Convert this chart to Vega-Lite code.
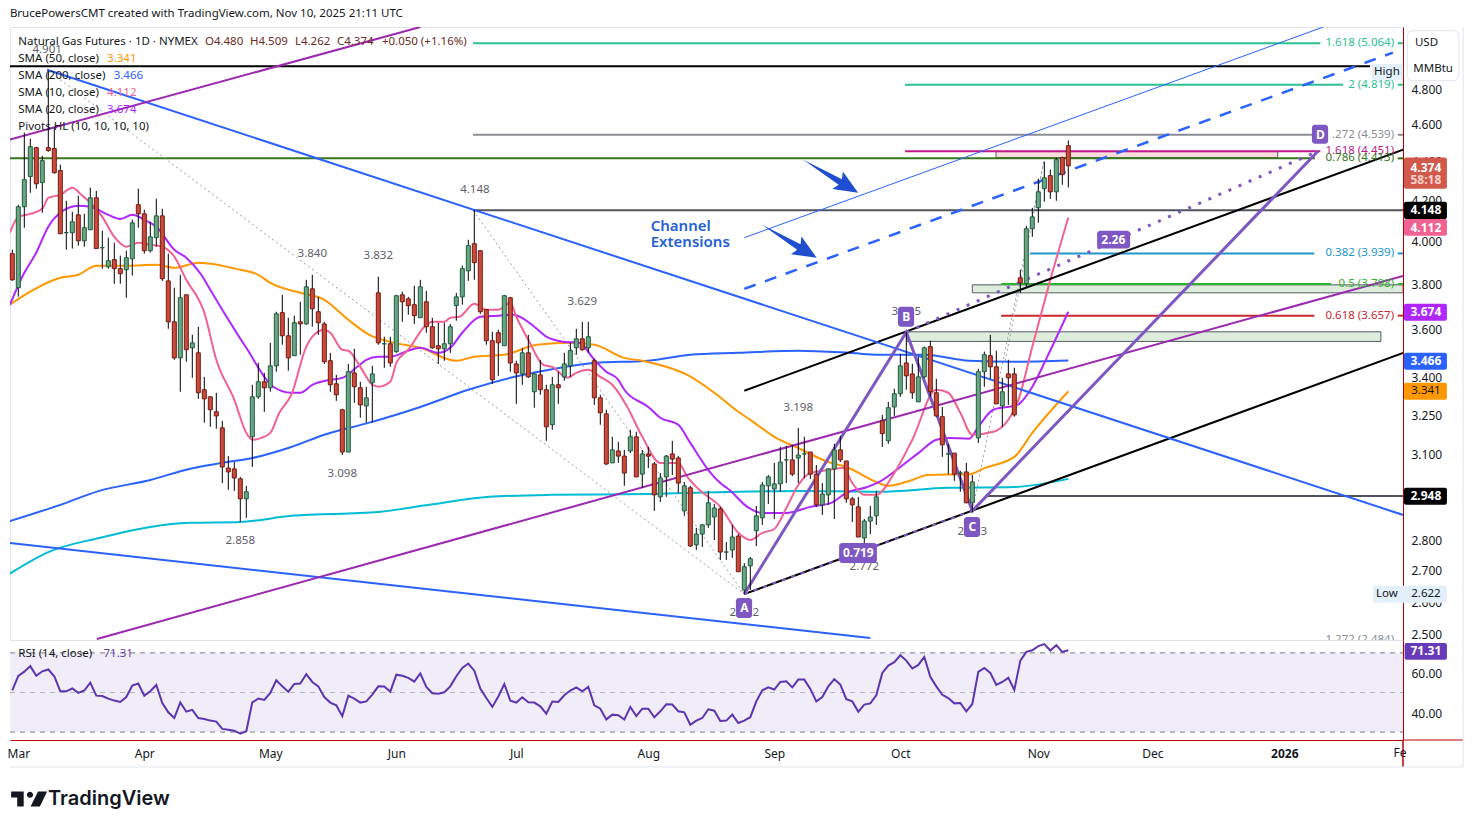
{
"$schema":"https://vega.github.io/schema/vega-lite/v6.json",
"background":"white",
"padding":{"left":7,"top":7,"right":8,"bottom":5},
"spacing":0,
"bounds":"flush",
"config":{"view":{"stroke":null},"text":{"font":"Noto Sans","fontSize":11.5,"baseline":"middle"},"axis":{"labelFont":"Noto Sans","labelFontSize":12,"labelColor":"#131722","grid":false,"ticks":false,"title":null,"labelOverlap":false,"labelBound":false}},
"datasets":{
"candles":[
{"b":0,"o":3.938,"h":3.957,"l":3.812,"c":3.817},{"b":1,"o":3.781,"h":4.175,"l":3.741,"c":4.165},{"b":2,"o":4.165,"h":4.551,"l":4.062,"c":4.302},{"b":3,"o":4.318,"h":4.518,"l":4.235,"c":4.475},{"b":4,"o":4.470,"h":4.475,"l":4.256,"c":4.281},{"b":5,"o":4.287,"h":4.427,"l":4.135,"c":4.401},{"b":6,"o":4.470,"h":4.900,"l":4.448,"c":4.454},{"b":7,"o":4.465,"h":4.578,"l":4.333,"c":4.338},{"b":8,"o":4.349,"h":4.380,"l":4.033,"c":4.033},{"b":9,"o":4.038,"h":4.195,"l":3.957,"c":4.038},
{"b":10,"o":4.038,"h":4.140,"l":3.962,"c":4.091},{"b":11,"o":4.125,"h":4.220,"l":3.976,"c":3.999},{"b":12,"o":3.999,"h":4.130,"l":3.971,"c":4.062},{"b":13,"o":4.052,"h":4.261,"l":4.052,"c":4.210},{"b":14,"o":4.210,"h":4.245,"l":3.962,"c":3.962},{"b":15,"o":3.966,"h":4.047,"l":3.868,"c":3.966},{"b":16,"o":3.877,"h":4.014,"l":3.868,"c":3.905},{"b":17,"o":3.910,"h":3.990,"l":3.799,"c":3.868},{"b":18,"o":3.868,"h":3.929,"l":3.799,"c":3.845},{"b":19,"o":3.863,"h":3.952,"l":3.736,"c":3.919},
{"b":20,"o":3.914,"h":4.101,"l":3.836,"c":4.086},{"b":21,"o":4.175,"h":4.256,"l":4.062,"c":4.130},{"b":22,"o":4.130,"h":4.150,"l":3.938,"c":3.952},{"b":23,"o":3.952,"h":4.091,"l":3.943,"c":4.018},{"b":24,"o":4.014,"h":4.205,"l":3.971,"c":4.120},{"b":25,"o":4.120,"h":4.155,"l":3.812,"c":3.822},{"b":26,"o":3.812,"h":3.938,"l":3.600,"c":3.630},{"b":27,"o":3.630,"h":3.781,"l":3.469,"c":3.477},{"b":28,"o":3.477,"h":3.840,"l":3.339,"c":3.736},{"b":29,"o":3.749,"h":3.749,"l":3.461,"c":3.511},
{"b":30,"o":3.519,"h":3.574,"l":3.395,"c":3.540},{"b":31,"o":3.498,"h":3.609,"l":3.311,"c":3.335},{"b":32,"o":3.347,"h":3.399,"l":3.218,"c":3.311},{"b":33,"o":3.319,"h":3.319,"l":3.202,"c":3.268},{"b":34,"o":3.260,"h":3.335,"l":3.195,"c":3.244},{"b":35,"o":3.198,"h":3.225,"l":2.994,"c":3.052},{"b":36,"o":3.048,"h":3.092,"l":2.970,"c":3.034},{"b":37,"o":3.045,"h":3.070,"l":2.966,"c":3.012},{"b":38,"o":3.009,"h":3.016,"l":2.858,"c":2.938},{"b":39,"o":2.938,"h":2.984,"l":2.872,"c":2.963},
{"b":40,"o":3.164,"h":3.367,"l":3.052,"c":3.319},{"b":41,"o":3.319,"h":3.456,"l":3.311,"c":3.379},{"b":42,"o":3.379,"h":3.415,"l":3.260,"c":3.355},{"b":43,"o":3.355,"h":3.540,"l":3.339,"c":3.444},{"b":44,"o":3.444,"h":3.674,"l":3.420,"c":3.665},{"b":45,"o":3.670,"h":3.749,"l":3.532,"c":3.570},{"b":46,"o":3.570,"h":3.648,"l":3.424,"c":3.477},{"b":47,"o":3.486,"h":3.657,"l":3.486,"c":3.626},{"b":48,"o":3.630,"h":3.718,"l":3.490,"c":3.621},{"b":49,"o":3.621,"h":3.817,"l":3.617,"c":3.785},
{"b":50,"o":3.776,"h":3.840,"l":3.609,"c":3.687},{"b":51,"o":3.674,"h":3.740,"l":3.574,"c":3.626},{"b":52,"o":3.621,"h":3.630,"l":3.452,"c":3.461},{"b":53,"o":3.465,"h":3.498,"l":3.339,"c":3.367},{"b":54,"o":3.371,"h":3.407,"l":3.303,"c":3.327},{"b":55,"o":3.268,"h":3.272,"l":3.096,"c":3.107},{"b":56,"o":3.107,"h":3.452,"l":3.107,"c":3.420},{"b":57,"o":3.415,"h":3.515,"l":3.295,"c":3.359},{"b":58,"o":3.355,"h":3.379,"l":3.237,"c":3.287},{"b":59,"o":3.283,"h":3.359,"l":3.218,"c":3.315},
{"b":60,"o":3.375,"h":3.444,"l":3.218,"c":3.411},{"b":61,"o":3.758,"h":3.831,"l":3.532,"c":3.540},{"b":62,"o":3.536,"h":3.566,"l":3.436,"c":3.536},{"b":63,"o":3.536,"h":3.566,"l":3.440,"c":3.456},{"b":64,"o":3.503,"h":3.749,"l":3.498,"c":3.745},{"b":65,"o":3.749,"h":3.763,"l":3.630,"c":3.718},{"b":66,"o":3.731,"h":3.740,"l":3.661,"c":3.701},{"b":67,"o":3.705,"h":3.790,"l":3.621,"c":3.657},{"b":68,"o":3.648,"h":3.817,"l":3.648,"c":3.785},{"b":69,"o":3.718,"h":3.767,"l":3.583,"c":3.609},
{"b":70,"o":3.609,"h":3.648,"l":3.515,"c":3.519},{"b":71,"o":3.528,"h":3.626,"l":3.452,"c":3.515},{"b":72,"o":3.515,"h":3.626,"l":3.465,"c":3.536},{"b":73,"o":3.536,"h":3.621,"l":3.498,"c":3.609},{"b":74,"o":3.701,"h":3.758,"l":3.635,"c":3.740},{"b":75,"o":3.740,"h":3.882,"l":3.705,"c":3.868},{"b":76,"o":3.858,"h":4.004,"l":3.812,"c":3.976},{"b":77,"o":3.985,"h":4.150,"l":3.817,"c":3.896},{"b":78,"o":3.952,"h":3.952,"l":3.665,"c":3.674},{"b":79,"o":3.683,"h":3.683,"l":3.532,"c":3.549},
{"b":80,"o":3.549,"h":3.587,"l":3.371,"c":3.387},{"b":81,"o":3.583,"h":3.596,"l":3.403,"c":3.540},{"b":82,"o":3.528,"h":3.749,"l":3.528,"c":3.745},{"b":83,"o":3.736,"h":3.740,"l":3.420,"c":3.456},{"b":84,"o":3.452,"h":3.465,"l":3.291,"c":3.415},{"b":85,"o":3.411,"h":3.519,"l":3.367,"c":3.498},{"b":86,"o":3.498,"h":3.574,"l":3.395,"c":3.399},{"b":87,"o":3.339,"h":3.415,"l":3.276,"c":3.411},{"b":88,"o":3.407,"h":3.469,"l":3.327,"c":3.347},{"b":89,"o":3.347,"h":3.367,"l":3.149,"c":3.202},
{"b":90,"o":3.210,"h":3.399,"l":3.191,"c":3.367},{"b":91,"o":3.367,"h":3.420,"l":3.291,"c":3.355},{"b":92,"o":3.399,"h":3.498,"l":3.383,"c":3.452},{"b":93,"o":3.444,"h":3.540,"l":3.399,"c":3.507},{"b":94,"o":3.519,"h":3.600,"l":3.490,"c":3.557},{"b":95,"o":3.557,"h":3.630,"l":3.507,"c":3.511},{"b":96,"o":3.519,"h":3.630,"l":3.498,"c":3.566},{"b":97,"o":3.465,"h":3.473,"l":3.287,"c":3.315},{"b":98,"o":3.315,"h":3.327,"l":3.210,"c":3.256},{"b":99,"o":3.252,"h":3.268,"l":3.059,"c":3.063},
{"b":100,"o":3.067,"h":3.164,"l":3.067,"c":3.115},{"b":101,"o":3.111,"h":3.145,"l":3.067,"c":3.092},{"b":102,"o":3.092,"h":3.115,"l":2.984,"c":3.030},{"b":103,"o":3.111,"h":3.191,"l":3.103,"c":3.164},{"b":104,"o":3.164,"h":3.183,"l":3.016,"c":3.016},{"b":105,"o":3.026,"h":3.115,"l":2.977,"c":3.100},{"b":106,"o":3.100,"h":3.126,"l":3.048,"c":3.092},{"b":107,"o":3.063,"h":3.070,"l":2.896,"c":2.952},{"b":108,"o":2.945,"h":3.030,"l":2.927,"c":3.012},{"b":109,"o":3.016,"h":3.096,"l":2.945,"c":3.092},
{"b":110,"o":3.100,"h":3.149,"l":3.023,"c":3.081},{"b":111,"o":3.085,"h":3.092,"l":2.959,"c":2.994},{"b":112,"o":2.896,"h":2.998,"l":2.879,"c":2.984},{"b":113,"o":2.977,"h":2.984,"l":2.774,"c":2.777},{"b":114,"o":2.781,"h":2.838,"l":2.764,"c":2.817},{"b":115,"o":2.817,"h":2.851,"l":2.774,"c":2.848},{"b":116,"o":2.848,"h":2.966,"l":2.838,"c":2.924},{"b":117,"o":2.875,"h":2.920,"l":2.797,"c":2.906},{"b":118,"o":2.903,"h":2.910,"l":2.731,"c":2.757},{"b":119,"o":2.757,"h":2.790,"l":2.731,"c":2.757},
{"b":120,"o":2.764,"h":2.848,"l":2.738,"c":2.807},{"b":121,"o":2.810,"h":2.817,"l":2.693,"c":2.693},{"b":122,"o":2.635,"h":2.721,"l":2.622,"c":2.709},{"b":123,"o":2.712,"h":2.741,"l":2.635,"c":2.735},{"b":124,"o":2.828,"h":2.913,"l":2.777,"c":2.879},{"b":125,"o":2.872,"h":2.998,"l":2.848,"c":2.987},{"b":126,"o":2.984,"h":3.023,"l":2.920,"c":3.016},{"b":127,"o":2.973,"h":3.067,"l":2.868,"c":2.991},{"b":128,"o":2.991,"h":3.126,"l":2.963,"c":3.070},{"b":129,"o":3.078,"h":3.130,"l":2.994,"c":3.078},
{"b":130,"o":3.078,"h":3.134,"l":3.019,"c":3.026},{"b":131,"o":3.085,"h":3.198,"l":2.994,"c":3.096},{"b":132,"o":3.100,"h":3.164,"l":3.012,"c":3.100},{"b":133,"o":3.107,"h":3.107,"l":3.009,"c":3.026},{"b":134,"o":3.026,"h":3.059,"l":2.910,"c":2.917},{"b":135,"o":2.917,"h":2.994,"l":2.882,"c":2.955},{"b":136,"o":2.952,"h":3.048,"l":2.917,"c":3.045},{"b":137,"o":3.045,"h":3.138,"l":2.868,"c":3.115},{"b":138,"o":3.115,"h":3.168,"l":3.070,"c":3.078},{"b":139,"o":3.074,"h":3.074,"l":2.924,"c":2.938},
{"b":140,"o":2.938,"h":2.945,"l":2.858,"c":2.917},{"b":141,"o":2.910,"h":2.945,"l":2.807,"c":2.807},{"b":142,"o":2.804,"h":2.868,"l":2.772,"c":2.861},{"b":143,"o":2.861,"h":2.913,"l":2.817,"c":2.875},{"b":144,"o":2.879,"h":2.966,"l":2.848,"c":2.945},{"b":145,"o":3.225,"h":3.248,"l":3.126,"c":3.176},{"b":146,"o":3.149,"h":3.299,"l":3.138,"c":3.276},{"b":147,"o":3.279,"h":3.351,"l":3.244,"c":3.331},{"b":148,"o":3.331,"h":3.494,"l":3.319,"c":3.444},{"b":149,"o":3.456,"h":3.585,"l":3.347,"c":3.403},
{"b":150,"o":3.411,"h":3.452,"l":3.311,"c":3.335},{"b":151,"o":3.299,"h":3.482,"l":3.299,"c":3.399},{"b":152,"o":3.399,"h":3.524,"l":3.395,"c":3.519},{"b":153,"o":3.524,"h":3.549,"l":3.319,"c":3.339},{"b":154,"o":3.335,"h":3.391,"l":3.241,"c":3.244},{"b":155,"o":3.241,"h":3.279,"l":3.089,"c":3.134},{"b":156,"o":3.100,"h":3.138,"l":3.026,"c":3.100},{"b":157,"o":3.103,"h":3.103,"l":3.002,"c":3.026},{"b":158,"o":3.030,"h":3.038,"l":2.963,"c":3.030},{"b":159,"o":3.034,"h":3.067,"l":2.924,"c":2.924},
{"b":160,"o":2.924,"h":3.023,"l":2.892,"c":2.998},{"b":161,"o":3.160,"h":3.432,"l":3.141,"c":3.420},{"b":162,"o":3.420,"h":3.503,"l":3.359,"c":3.490},{"b":163,"o":3.486,"h":3.574,"l":3.391,"c":3.440},{"b":164,"o":3.440,"h":3.507,"l":3.291,"c":3.291},{"b":165,"o":3.283,"h":3.395,"l":3.202,"c":3.339},{"b":166,"o":3.411,"h":3.469,"l":3.287,"c":3.395},{"b":167,"o":3.411,"h":3.436,"l":3.241,"c":3.248},{"b":168,"o":3.826,"h":3.863,"l":3.758,"c":3.803},{"b":169,"o":3.799,"h":4.072,"l":3.785,"c":4.057},
{"b":170,"o":4.057,"h":4.160,"l":4.018,"c":4.115},{"b":171,"o":4.160,"h":4.307,"l":4.086,"c":4.240},{"b":172,"o":4.256,"h":4.396,"l":4.190,"c":4.312},{"b":173,"o":4.323,"h":4.354,"l":4.205,"c":4.240},{"b":174,"o":4.240,"h":4.417,"l":4.195,"c":4.406},{"b":175,"o":4.417,"h":4.422,"l":4.276,"c":4.328},{"b":176,"o":4.480,"h":4.509,"l":4.262,"c":4.374}
],
"sma":[
{"k":"SMA200","b":-0.4,"p":2.861},{"k":"SMA200","b":8,"p":2.917},{"k":"SMA200","b":14.5,"p":2.966},{"k":"SMA200","b":23,"p":3.005},{"k":"SMA200","b":29.5,"p":3.045},{"k":"SMA200","b":35,"p":3.067},{"k":"SMA200","b":40,"p":3.085},{"k":"SMA200","b":46.5,"p":3.126},{"k":"SMA200","b":52,"p":3.172},{"k":"SMA200","b":59.5,"p":3.218},{"k":"SMA200","b":68,"p":3.279},{"k":"SMA200","b":76,"p":3.347},{"k":"SMA200","b":83,"p":3.395},{"k":"SMA200","b":89.5,"p":3.428},{"k":"SMA200","b":97,"p":3.456},{"k":"SMA200","b":106,"p":3.465},{"k":"SMA200","b":113,"p":3.490},{"k":"SMA200","b":121,"p":3.498},{"k":"SMA200","b":131,"p":3.507},{"k":"SMA200","b":139.5,"p":3.498},{"k":"SMA200","b":144.5,"p":3.490},{"k":"SMA200","b":152,"p":3.490},{"k":"SMA200","b":159.5,"p":3.465},{"k":"SMA200","b":167,"p":3.461},{"k":"SMA200","b":176,"p":3.466},
{"k":"SMAx","b":-0.4,"p":2.687},{"k":"SMAx","b":6,"p":2.757},{"k":"SMAx","b":14.5,"p":2.804},{"k":"SMAx","b":23,"p":2.841},{"k":"SMAx","b":29.5,"p":2.855},{"k":"SMAx","b":38,"p":2.858},{"k":"SMAx","b":46.5,"p":2.879},{"k":"SMAx","b":61,"p":2.892},{"k":"SMAx","b":69.5,"p":2.917},{"k":"SMAx","b":79.5,"p":2.945},{"k":"SMAx","b":89.5,"p":2.952},{"k":"SMAx","b":106,"p":2.955},{"k":"SMAx","b":121,"p":2.963},{"k":"SMAx","b":131,"p":2.966},{"k":"SMAx","b":144.5,"p":2.963},{"k":"SMAx","b":156,"p":2.977},{"k":"SMAx","b":167,"p":2.980},{"k":"SMAx","b":176,"p":3.009},
{"k":"SMA50","b":-0.4,"p":3.705},{"k":"SMA50","b":3,"p":3.763},{"k":"SMA50","b":8,"p":3.826},{"k":"SMA50","b":11,"p":3.840},{"k":"SMA50","b":14,"p":3.882},{"k":"SMA50","b":19,"p":3.882},{"k":"SMA50","b":24,"p":3.886},{"k":"SMA50","b":27,"p":3.872},{"k":"SMA50","b":31,"p":3.896},{"k":"SMA50","b":38,"p":3.863},{"k":"SMA50","b":41,"p":3.840},{"k":"SMA50","b":43,"p":3.803},{"k":"SMA50","b":48,"p":3.758},{"k":"SMA50","b":52,"p":3.727},{"k":"SMA50","b":56,"p":3.639},{"k":"SMA50","b":59.5,"p":3.574},{"k":"SMA50","b":63,"p":3.544},{"k":"SMA50","b":68,"p":3.519},{"k":"SMA50","b":74,"p":3.465},{"k":"SMA50","b":77,"p":3.482},{"k":"SMA50","b":82,"p":3.490},{"k":"SMA50","b":87.5,"p":3.532},{"k":"SMA50","b":93,"p":3.540},{"k":"SMA50","b":97,"p":3.532},{"k":"SMA50","b":102,"p":3.477},{"k":"SMA50","b":105,"p":3.465},{"k":"SMA50","b":109,"p":3.440},{"k":"SMA50","b":112.5,"p":3.407},{"k":"SMA50","b":117,"p":3.335},{"k":"SMA50","b":121,"p":3.260},{"k":"SMA50","b":123,"p":3.229},{"k":"SMA50","b":127,"p":3.164},{"k":"SMA50","b":131,"p":3.122},{"k":"SMA50","b":136,"p":3.070},{"k":"SMA50","b":139,"p":3.052},{"k":"SMA50","b":144,"p":2.998},{"k":"SMA50","b":146,"p":2.984},{"k":"SMA50","b":150,"p":3.005},{"k":"SMA50","b":152.5,"p":3.023},{"k":"SMA50","b":159.5,"p":3.026},{"k":"SMA50","b":162,"p":3.048},{"k":"SMA50","b":167,"p":3.089},{"k":"SMA50","b":170,"p":3.179},{"k":"SMA50","b":176,"p":3.341},
{"k":"SMA20","b":-0.4,"p":3.705},{"k":"SMA20","b":2,"p":3.849},{"k":"SMA20","b":4,"p":3.943},{"k":"SMA20","b":6,"p":4.067},{"k":"SMA20","b":8,"p":4.135},{"k":"SMA20","b":11,"p":4.170},{"k":"SMA20","b":13,"p":4.165},{"k":"SMA20","b":16,"p":4.125},{"k":"SMA20","b":18,"p":4.105},{"k":"SMA20","b":20,"p":4.125},{"k":"SMA20","b":22,"p":4.101},{"k":"SMA20","b":24,"p":4.067},{"k":"SMA20","b":27,"p":3.957},{"k":"SMA20","b":29,"p":3.919},{"k":"SMA20","b":31.5,"p":3.840},{"k":"SMA20","b":33,"p":3.772},{"k":"SMA20","b":35,"p":3.683},{"k":"SMA20","b":39,"p":3.519},{"k":"SMA20","b":43.5,"p":3.359},{"k":"SMA20","b":46.5,"p":3.335},{"k":"SMA20","b":48,"p":3.335},{"k":"SMA20","b":50,"p":3.367},{"k":"SMA20","b":53,"p":3.387},{"k":"SMA20","b":55,"p":3.395},{"k":"SMA20","b":57.5,"p":3.440},{"k":"SMA20","b":59,"p":3.469},{"k":"SMA20","b":61,"p":3.482},{"k":"SMA20","b":63,"p":3.482},{"k":"SMA20","b":66,"p":3.507},{"k":"SMA20","b":68,"p":3.519},{"k":"SMA20","b":71,"p":3.498},{"k":"SMA20","b":73,"p":3.519},{"k":"SMA20","b":75,"p":3.583},{"k":"SMA20","b":78,"p":3.652},{"k":"SMA20","b":81,"p":3.657},{"k":"SMA20","b":83.5,"p":3.661},{"k":"SMA20","b":87,"p":3.609},{"k":"SMA20","b":89,"p":3.566},{"k":"SMA20","b":92,"p":3.544},{"k":"SMA20","b":94.5,"p":3.540},{"k":"SMA20","b":97,"p":3.469},{"k":"SMA20","b":99,"p":3.420},{"k":"SMA20","b":101,"p":3.387},{"k":"SMA20","b":102,"p":3.347},{"k":"SMA20","b":106,"p":3.279},{"k":"SMA20","b":108,"p":3.237},{"k":"SMA20","b":111,"p":3.210},{"k":"SMA20","b":113,"p":3.141},{"k":"SMA20","b":116,"p":3.041},{"k":"SMA20","b":118,"p":2.994},{"k":"SMA20","b":119.5,"p":2.970},{"k":"SMA20","b":122.5,"p":2.910},{"k":"SMA20","b":125,"p":2.889},{"k":"SMA20","b":129,"p":2.889},{"k":"SMA20","b":133,"p":2.910},{"k":"SMA20","b":136.5,"p":2.924},{"k":"SMA20","b":139,"p":2.959},{"k":"SMA20","b":142.5,"p":2.980},{"k":"SMA20","b":144.5,"p":2.998},{"k":"SMA20","b":148,"p":3.052},{"k":"SMA20","b":151,"p":3.103},{"k":"SMA20","b":154,"p":3.153},{"k":"SMA20","b":156,"p":3.160},{"k":"SMA20","b":159.5,"p":3.157},{"k":"SMA20","b":161,"p":3.202},{"k":"SMA20","b":163.5,"p":3.268},{"k":"SMA20","b":167.5,"p":3.287},{"k":"SMA20","b":170,"p":3.359},{"k":"SMA20","b":172.5,"p":3.482},{"k":"SMA20","b":176,"p":3.674},
{"k":"SMA10","b":-0.4,"p":4.038},{"k":"SMA10","b":1,"p":4.115},{"k":"SMA10","b":3,"p":4.130},{"k":"SMA10","b":5,"p":4.155},{"k":"SMA10","b":6,"p":4.210},{"k":"SMA10","b":8,"p":4.225},{"k":"SMA10","b":10,"p":4.261},{"k":"SMA10","b":11.5,"p":4.225},{"k":"SMA10","b":13,"p":4.185},{"k":"SMA10","b":15,"p":4.115},{"k":"SMA10","b":17,"p":4.018},{"k":"SMA10","b":19,"p":3.971},{"k":"SMA10","b":21,"p":3.990},{"k":"SMA10","b":23,"p":3.980},{"k":"SMA10","b":25,"p":3.971},{"k":"SMA10","b":27,"p":3.924},{"k":"SMA10","b":29,"p":3.817},{"k":"SMA10","b":32,"p":3.670},{"k":"SMA10","b":34,"p":3.469},{"k":"SMA10","b":37,"p":3.307},{"k":"SMA10","b":39,"p":3.179},{"k":"SMA10","b":40,"p":3.153},{"k":"SMA10","b":41.5,"p":3.160},{"k":"SMA10","b":43,"p":3.179},{"k":"SMA10","b":44.5,"p":3.256},{"k":"SMA10","b":46.5,"p":3.327},{"k":"SMA10","b":49,"p":3.524},{"k":"SMA10","b":50,"p":3.566},{"k":"SMA10","b":52,"p":3.596},{"k":"SMA10","b":53,"p":3.583},{"k":"SMA10","b":55,"p":3.511},{"k":"SMA10","b":56,"p":3.507},{"k":"SMA10","b":58,"p":3.440},{"k":"SMA10","b":60,"p":3.367},{"k":"SMA10","b":61,"p":3.359},{"k":"SMA10","b":63,"p":3.379},{"k":"SMA10","b":64,"p":3.456},{"k":"SMA10","b":66,"p":3.511},{"k":"SMA10","b":69,"p":3.617},{"k":"SMA10","b":70,"p":3.630},{"k":"SMA10","b":72,"p":3.630},{"k":"SMA10","b":73,"p":3.648},{"k":"SMA10","b":74.5,"p":3.652},{"k":"SMA10","b":77,"p":3.709},{"k":"SMA10","b":79,"p":3.683},{"k":"SMA10","b":81,"p":3.683},{"k":"SMA10","b":83,"p":3.714},{"k":"SMA10","b":84,"p":3.652},{"k":"SMA10","b":86,"p":3.553},{"k":"SMA10","b":88.5,"p":3.448},{"k":"SMA10","b":90,"p":3.440},{"k":"SMA10","b":92.5,"p":3.395},{"k":"SMA10","b":94,"p":3.415},{"k":"SMA10","b":96,"p":3.428},{"k":"SMA10","b":98,"p":3.399},{"k":"SMA10","b":100,"p":3.367},{"k":"SMA10","b":102.5,"p":3.279},{"k":"SMA10","b":105,"p":3.164},{"k":"SMA10","b":108,"p":3.067},{"k":"SMA10","b":111,"p":3.067},{"k":"SMA10","b":112.5,"p":3.016},{"k":"SMA10","b":114.5,"p":2.970},{"k":"SMA10","b":118,"p":2.910},{"k":"SMA10","b":121,"p":2.821},{"k":"SMA10","b":123,"p":2.797},{"k":"SMA10","b":125,"p":2.821},{"k":"SMA10","b":127,"p":2.834},{"k":"SMA10","b":129,"p":2.906},{"k":"SMA10","b":131,"p":2.987},{"k":"SMA10","b":133,"p":3.030},{"k":"SMA10","b":136,"p":3.041},{"k":"SMA10","b":138.5,"p":3.048},{"k":"SMA10","b":140,"p":2.994},{"k":"SMA10","b":142,"p":2.952},{"k":"SMA10","b":144,"p":2.952},{"k":"SMA10","b":147,"p":3.030},{"k":"SMA10","b":150,"p":3.153},{"k":"SMA10","b":154,"p":3.347},{"k":"SMA10","b":156,"p":3.335},{"k":"SMA10","b":158,"p":3.256},{"k":"SMA10","b":160,"p":3.172},{"k":"SMA10","b":163.5,"p":3.183},{"k":"SMA10","b":167.5,"p":3.295},{"k":"SMA10","b":170,"p":3.524},{"k":"SMA10","b":173,"p":3.817},{"k":"SMA10","b":176,"p":4.112}
],
"levels":[
{"id":"high","k":"black","b":-0.4,"p":4.927},{"id":"high","k":"black","b":226.3,"p":4.927},
{"id":"f5064","k":"teal","b":76.8,"p":5.064},{"id":"f5064","k":"teal","b":218,"p":5.064},{"id":"f5064t","k":"teal","b":230.9,"p":5.064},{"id":"f5064t","k":"teal","b":231.8,"p":5.064},
{"id":"f4819","k":"teal","b":148.8,"p":4.819},{"id":"f4819","k":"teal","b":221.8,"p":4.819},{"id":"f4819t","k":"teal","b":230.9,"p":4.819},{"id":"f4819t","k":"teal","b":231.8,"p":4.819},
{"id":"f4539","k":"gray","b":76.8,"p":4.539},{"id":"f4539","k":"gray","b":216.8,"p":4.539},{"id":"f4539t","k":"gray","b":230.9,"p":4.539},{"id":"f4539t","k":"gray","b":231.8,"p":4.539},
{"id":"f4451","k":"magenta","b":148.8,"p":4.451},{"id":"f4451","k":"magenta","b":218,"p":4.451},
{"id":"f4413","k":"dgreen","b":-0.4,"p":4.413},{"id":"f4413","k":"dgreen","b":217.1,"p":4.413},{"id":"f4413t","k":"dgreen","b":230.9,"p":4.413},{"id":"f4413t","k":"dgreen","b":231.8,"p":4.413},
{"id":"f3939","k":"sky","b":169.6,"p":3.939},{"id":"f3939","k":"sky","b":217,"p":3.939},{"id":"f3939t","k":"sky","b":230.9,"p":3.939},{"id":"f3939t","k":"sky","b":231.8,"p":3.939},
{"id":"f3798","k":"green","b":164.8,"p":3.798},{"id":"f3798","k":"green","b":219.8,"p":3.798},{"id":"f3798t","k":"green","b":230.9,"p":3.798},{"id":"f3798t","k":"green","b":231.8,"p":3.798},
{"id":"f3657","k":"red","b":164.8,"p":3.657},{"id":"f3657","k":"red","b":217,"p":3.657},{"id":"f3657t","k":"red","b":230.9,"p":3.657},{"id":"f3657t","k":"red","b":231.8,"p":3.657},
{"id":"h4148","k":"dark","b":76.8,"p":4.148},{"id":"h4148","k":"dark","b":231.8,"p":4.148},
{"id":"h2948","k":"dark","b":162.1,"p":2.948},{"id":"h2948","k":"dark","b":231.8,"p":2.948}
],
"zones":[
{"k":"pink","b":163.95,"b2":210.9,"p":4.449,"p2":4.417},
{"k":"sage","b":160,"b2":231.8,"p":3.794,"p2":3.758},
{"k":"sage","b":149.1,"b2":228.1,"p":3.587,"p2":3.546}
],
"trends":[
{"id":"ch1","k":"black","b":122,"p":2.622},{"id":"ch1","k":"black","b":231.8,"p":3.498},
{"id":"ch2","k":"black","b":122,"p":3.343},{"id":"ch2","k":"black","b":231.8,"p":4.459},
{"id":"bl1","k":"blue","b":5.8,"p":4.906},{"id":"bl1","k":"blue","b":231.8,"p":2.882},
{"id":"bl2","k":"blue","b":-0.4,"p":2.787},{"id":"bl2","k":"blue","b":143,"p":2.488},
{"id":"pu1","k":"plum","b":14.1,"p":2.485},{"id":"pu1","k":"plum","b":231.8,"p":3.835},
{"id":"pu2","k":"plum","b":-0.4,"p":4.513},{"id":"pu2","k":"plum","b":68,"p":5.163}
],
"thin":[{"b":122,"p":4.014},{"b":218.5,"p":5.163}],
"dashed":[{"b":122,"p":3.776},{"b":230.1,"p":5.007}],
"abcd":[{"b":122,"p":2.622},{"b":149,"p":3.585},{"b":160,"p":2.896},{"b":217.6,"p":4.451}],
"dotted":[{"b":149,"p":3.585},{"b":217.6,"p":4.451}],
"acdash":[{"b":122,"p":2.622},{"b":160,"p":2.896}],
"pivots":[
{"id":"a","b":6,"p":4.900},{"id":"a","b":122,"p":2.622},
{"id":"b","b":76.8,"p":4.148},{"id":"b","b":122,"p":2.622},
{"id":"c","b":160,"p":2.896},{"id":"c","b":171.9,"p":4.396},
{"id":"d","b":165.5,"p":3.465},{"id":"d","b":171.9,"p":4.396}
],
"arrows":[{"b":136.4,"p":4.32},{"b":129.5,"p":3.997}],
"badges":[
{"b":120.6,"b2":123.3,"p":2.610,"p2":2.548},{"b":147.6,"b2":150.3,"p":3.696,"p2":3.609},{"b":158.6,"b2":161.3,"p":2.875,"p2":2.807},{"b":216.6,"b2":219.3,"p":4.594,"p2":4.491},{"b":137.8,"b2":144.1,"p":2.787,"p2":2.721},{"b":180.8,"b2":186.3,"p":4.047,"p2":3.962}
],
"boxes":[
{"k":"close","b":231.95,"b2":239.1,"p":4.417,"p2":4.256},
{"k":"black","b":231.95,"b2":239.1,"p":4.190,"p2":4.105},
{"k":"pink","b":231.95,"b2":239.1,"p":4.105,"p2":4.023},
{"k":"purple","b":231.95,"b2":239.1,"p":3.709,"p2":3.635},
{"k":"blue","b":231.95,"b2":239.1,"p":3.498,"p2":3.428},
{"k":"orange","b":231.95,"b2":239.1,"p":3.375,"p2":3.307},
{"k":"black","b":231.95,"b2":239.1,"p":2.977,"p2":2.917},
{"k":"pale","b":226.8,"b2":239.1,"p":2.648,"p2":2.595},
{"k":"pale","b":226.5,"b2":231.8,"p":4.940,"p2":4.847}
],
"unitbox":[{"b":232.5,"b2":241.1,"p":5.140,"p2":4.842}],
"notes":[
{"g":"L","k":"ink","b":-0.4,"p":5.243,"t":"BrucePowersCMT created with TradingView.com, Nov 10, 2025 21:11 UTC"},
{"g":"L","k":"ink","b":1,"p":5.071,"t":"Natural Gas Futures · 1D · NYMEX"},
{"g":"L","k":"ohlc","b":32.1,"p":5.071,"t":"O4.480"},{"g":"L","k":"ohlc","b":39.6,"p":5.071,"t":"H4.509"},{"g":"L","k":"ohlc","b":47.1,"p":5.071,"t":"L4.262"},{"g":"L","k":"ohlc","b":54.1,"p":5.071,"t":"C4.374"},{"g":"L","k":"ohlc","b":61.6,"p":5.071,"t":"+0.050 (+1.16%)"},
{"g":"L","k":"ink","b":1,"p":4.969,"t":"SMA (50, close)"},{"g":"L","k":"orange","b":15.8,"p":4.969,"t":"3.341"},
{"g":"L","k":"ink","b":1,"p":4.869,"t":"SMA (200, close)"},{"g":"L","k":"blue","b":16.9,"p":4.869,"t":"3.466"},
{"g":"L","k":"ink","b":1,"p":4.771,"t":"SMA (10, close)"},{"g":"L","k":"pink","b":15.8,"p":4.771,"t":"4.112"},
{"g":"L","k":"ink","b":1,"p":4.675,"t":"SMA (20, close)"},{"g":"L","k":"purple","b":15.8,"p":4.675,"t":"3.674"},
{"g":"L","k":"ink","b":1,"p":4.581,"t":"Pivots HL (10, 10, 10, 10)"},
{"g":"C","k":"piv","b":5.8,"p":5.025,"t":"4.901"},{"g":"C","k":"piv","b":77.1,"p":4.251,"t":"4.148"},{"g":"C","k":"piv","b":50,"p":3.938,"t":"3.840"},{"g":"C","k":"piv","b":61,"p":3.929,"t":"3.832"},{"g":"C","k":"piv","b":95,"p":3.718,"t":"3.629"},{"g":"C","k":"piv","b":131,"p":3.276,"t":"3.198"},{"g":"C","k":"piv","b":55,"p":3.026,"t":"3.098"},{"g":"C","k":"piv","b":38,"p":2.794,"t":"2.858"},{"g":"C","k":"piv","b":142,"p":2.709,"t":"2.772"},{"g":"C","k":"piv","b":122,"p":2.564,"t":"2.622"},{"g":"C","k":"piv","b":160,"p":2.824,"t":"2.893"},{"g":"C","k":"piv","b":149,"p":3.674,"t":"3.585"},
{"g":"R","k":"teal","b":230.3,"p":5.064,"t":"1.618 (5.064)"},{"g":"R","k":"teal","b":230.3,"p":4.819,"t":"2 (4.819)"},{"g":"R","k":"gray","b":230.3,"p":4.539,"t":".272 (4.539)"},{"g":"R","k":"magenta","b":230.3,"p":4.451,"t":"1.618 (4.451)"},{"g":"R","k":"dgreen","b":230.3,"p":4.413,"t":"0.786 (4.413)"},{"g":"R","k":"sky","b":230.3,"p":3.939,"t":"0.382 (3.939)"},{"g":"R","k":"green","b":230.3,"p":3.798,"t":"0.5 (3.798)"},{"g":"R","k":"red","b":230.3,"p":3.657,"t":"0.618 (3.657)"},
{"g":"D","k":"ink","b":229.1,"p":4.893,"t":"High"},{"g":"D","k":"ink","b":229.1,"p":2.622,"t":"Low"},{"g":"D","k":"ink","b":235.6,"p":2.622,"t":"2.622"},{"g":"D","k":"ink","b":235.6,"p":3.341,"t":"3.341"},{"g":"D","k":"ink","b":235.7,"p":5.065,"t":"USD"},{"g":"D","k":"ink","b":236.8,"p":4.912,"t":"MMBtu"}
],
"badgeText":[
{"b":122,"p":2.578,"t":"A"},{"b":149,"p":3.652,"t":"B"},{"b":160,"p":2.841,"t":"C"},{"b":218,"p":4.539,"t":"D"},{"b":141,"p":2.754,"t":"0.719"},{"b":183.5,"p":4.004,"t":"2.26"},
{"b":235.6,"p":4.365,"t":"4.374"},{"b":235.6,"p":4.148,"t":"4.148"},{"b":235.6,"p":4.062,"t":"4.112"},{"b":235.6,"p":3.672,"t":"3.674"},{"b":235.6,"p":3.463,"t":"3.466"},{"b":235.6,"p":2.948,"t":"2.948"}
],
"timer":[{"b":235.6,"p":4.302,"t":"58:18"}],
"cutoff":[{"b":230.3,"p":2.482,"t":"1.272 (2.484)"}],
"channel":[{"b":106.4,"p":4.072,"t":"Channel"},{"b":106.4,"p":3.993,"t":"Extensions"}],
"frameMain":[{"b":241.8,"p":2.482,"p2":5.163}],
"rsi":[
{"b":0,"r":51},{"b":1,"r":58.4},{"b":2,"r":60.5},{"b":3,"r":63.3},{"b":4,"r":58.4},{"b":5,"r":60.7},{"b":6,"r":61.6},{"b":7,"r":58.2},{"b":8,"r":50.6},{"b":9,"r":50.6},{"b":10,"r":52},{"b":11,"r":49.8},{"b":12,"r":51},{"b":13,"r":55},{"b":14,"r":48.4},{"b":15,"r":48.2},{"b":16,"r":46.9},{"b":17,"r":45.9},{"b":18,"r":45.2},{"b":19,"r":47.7},{"b":20,"r":53.5},{"b":21,"r":54.5},{"b":22,"r":48.4},{"b":23,"r":50.6},{"b":24,"r":53.8},{"b":25,"r":44.7},{"b":26,"r":40},{"b":27,"r":37.1},{"b":28,"r":45},{"b":29,"r":40.3},{"b":30,"r":41.2},{"b":31,"r":37.1},{"b":32,"r":36.6},{"b":33,"r":35.8},{"b":34,"r":35.3},{"b":35,"r":31.6},{"b":36,"r":31.2},{"b":37,"r":30.7},{"b":38,"r":29.2},{"b":39,"r":30.4},{"b":40,"r":45},{"b":41,"r":46.9},{"b":42,"r":46.2},{"b":43,"r":49.8},{"b":44,"r":56.2},{"b":45,"r":53.1},{"b":46,"r":50.3},{"b":47,"r":54.3},{"b":48,"r":54.5},{"b":49,"r":59.2},{"b":50,"r":55.3},{"b":51,"r":53.1},{"b":52,"r":47.7},{"b":53,"r":44.9},{"b":54,"r":43.5},{"b":55,"r":38},{"b":56,"r":48.4},{"b":57,"r":46.9},{"b":58,"r":44.9},{"b":59,"r":45.5},{"b":60,"r":48.9},{"b":61,"r":53.1},{"b":62,"r":53},{"b":63,"r":50.4},{"b":64,"r":59},{"b":65,"r":58.4},{"b":66,"r":57.4},{"b":67,"r":55.5},{"b":68,"r":59.6},{"b":69,"r":52.8},{"b":70,"r":49.6},{"b":71,"r":49.4},{"b":72,"r":50.1},{"b":73,"r":53.1},{"b":74,"r":58.2},{"b":75,"r":62.4},{"b":76,"r":64.6},{"b":77,"r":61},{"b":78,"r":52},{"b":79,"r":47.2},{"b":80,"r":42.7},{"b":81,"r":48},{"b":82,"r":54.3},{"b":83,"r":45.9},{"b":84,"r":44.9},{"b":85,"r":47.6},{"b":86,"r":45},{"b":87,"r":44.9},{"b":88,"r":43},{"b":89,"r":39.3},{"b":90,"r":45.4},{"b":91,"r":45.2},{"b":92,"r":48.6},{"b":93,"r":51},{"b":94,"r":52.6},{"b":95,"r":50.6},{"b":96,"r":52.8},{"b":97,"r":43.5},{"b":98,"r":41.8},{"b":99,"r":36.4},{"b":100,"r":38.8},{"b":101,"r":38.5},{"b":102,"r":36.3},{"b":103,"r":42.7},{"b":104,"r":38.1},{"b":105,"r":41.8},{"b":106,"r":41.8},{"b":107,"r":37.5},{"b":108,"r":40.5},{"b":109,"r":44},{"b":110,"r":43.9},{"b":111,"r":40.5},{"b":112,"r":40},{"b":113,"r":33.7},{"b":114,"r":35.8},{"b":115,"r":37.1},{"b":116,"r":41.5},{"b":117,"r":40.8},{"b":118,"r":35.6},{"b":119,"r":35.8},{"b":120,"r":38.8},{"b":121,"r":34.6},{"b":122,"r":35.8},{"b":123,"r":37.5},{"b":124,"r":45.5},{"b":125,"r":51.1},{"b":126,"r":52.6},{"b":127,"r":51.5},{"b":128,"r":55.3},{"b":129,"r":55.7},{"b":130,"r":52.6},{"b":131,"r":56.5},{"b":132,"r":56.5},{"b":133,"r":51.8},{"b":134,"r":45.5},{"b":135,"r":47.7},{"b":136,"r":53.1},{"b":137,"r":56.7},{"b":138,"r":54},{"b":139,"r":46.6},{"b":140,"r":45.5},{"b":141,"r":40.3},{"b":142,"r":43.9},{"b":143,"r":44.5},{"b":144,"r":48.6},{"b":145,"r":59.9},{"b":146,"r":63.6},{"b":147,"r":65.3},{"b":148,"r":68.8},{"b":149,"r":66.1},{"b":150,"r":62.1},{"b":151,"r":63.9},{"b":152,"r":68},{"b":153,"r":57.9},{"b":154,"r":53.1},{"b":155,"r":48.8},{"b":156,"r":47.2},{"b":157,"r":44.5},{"b":158,"r":44.7},{"b":159,"r":40.5},{"b":160,"r":44.2},{"b":161,"r":60.4},{"b":162,"r":62.4},{"b":163,"r":59.9},{"b":164,"r":53.8},{"b":165,"r":55.3},{"b":166,"r":57.4},{"b":167,"r":51.3},{"b":168,"r":66.1},{"b":169,"r":70.5},{"b":170,"r":71.3},{"b":171,"r":73.4},{"b":172,"r":74.4},{"b":173,"r":71.2},{"b":174,"r":73.9},{"b":175,"r":70.5},{"b":176,"r":71.31}
]
},
"vconcat":[
{
"width":1393,"height":613,
"view":{"stroke":"#e0e3eb"},
"resolve":{"scale":{"color":"independent","fill":"independent"}},
"encoding":{
"x":{"field":"b","type":"quantitative","axis":null,"scale":{"domain":[-0.383,231.78],"nice":false,"zero":false,"padding":0}},
"y":{"field":"p","type":"quantitative","scale":{"type":"log","domain":[2.482,5.163],"nice":false,"padding":0},"axis":{"orient":"right","values":[2.5,2.6,2.7,2.8,3.1,3.25,3.4,3.6,3.8,4,4.2,4.4,4.6,4.8],"format":".3f","labelPadding":8,"labelOffset":1,"domainColor":"#b00000","domainWidth":1}}
},
"layer":[
{"data":{"name":"zones"},"mark":{"type":"rect","stroke":"#555b66","strokeWidth":1,"clip":true},"encoding":{"x2":{"field":"b2"},"y2":{"field":"p2"},"fill":{"field":"k","type":"nominal","legend":null,"scale":{"domain":["pink","sage"],"range":["#fcdcdc","#deecdc"]}}}},
{"data":{"name":"levels"},"mark":{"type":"line","strokeWidth":2,"clip":true},"encoding":{"detail":{"field":"id"},"color":{"field":"k","type":"nominal","legend":null,"scale":{"domain":["black","teal","gray","magenta","dgreen","sky","green","red","dark"],"range":["#000000","#2bbf91","#8a8d96","#c2188b","#38761d","#2196c8","#2ab52a","#c8282d","#50535e"]}}}},
{"data":{"name":"pivots"},"mark":{"type":"line","strokeWidth":1,"strokeDash":[2,3],"color":"#9a9da6","clip":true},"encoding":{"detail":{"field":"id"}}},
{"data":{"name":"sma"},"mark":{"type":"line","strokeWidth":2,"interpolate":"monotone","clip":true},"encoding":{"color":{"field":"k","type":"nominal","legend":null,"scale":{"domain":["SMA10","SMA20","SMA50","SMA200","SMAx"],"range":["#f06292","#b026ff","#ff9800","#2962ff","#00bcd4"]}}}},
{"data":{"name":"trends"},"mark":{"type":"line","strokeWidth":2,"clip":true},"encoding":{"detail":{"field":"id"},"color":{"field":"k","type":"nominal","legend":null,"scale":{"domain":["black","blue","plum"],"range":["#000000","#2962ff","#9c27b0"]}}}},
{"data":{"name":"thin"},"mark":{"type":"line","strokeWidth":1,"color":"#2962ff","clip":true}},
{"data":{"name":"dashed"},"mark":{"type":"line","strokeWidth":2.5,"strokeDash":[12,10],"color":"#2962ff","clip":true}},
{"data":{"name":"abcd"},"mark":{"type":"line","strokeWidth":3,"color":"#7e57c2","clip":true}},
{"data":{"name":"dotted"},"mark":{"type":"line","strokeWidth":3,"strokeDash":[3,8],"color":"#7e57c2","clip":true}},
{"data":{"name":"acdash"},"mark":{"type":"line","strokeWidth":2,"strokeDash":[4,6],"color":"#7e57c2","clip":true}},
{"data":{"name":"candles"},"mark":{"type":"rule","color":"#000000","strokeWidth":1},"encoding":{"y":{"field":"l","type":"quantitative"},"y2":{"field":"h"}}},
{"data":{"name":"candles"},"mark":{"type":"bar","size":4,"strokeWidth":1},"encoding":{"y":{"field":"o","type":"quantitative"},"y2":{"field":"c"},"fill":{"condition":{"test":"datum.c>=datum.o","value":"#6aa584"},"value":"#cc4a3a"},"stroke":{"condition":{"test":"datum.c>=datum.o","value":"#1f5c3e"},"value":"#6f1a12"}}},
{"data":{"name":"arrows"},"mark":{"type":"point","shape":"M-1,0 L0.35,-0.1 L0.25,-0.32 L1,0 L0.25,0.32 L0.35,0.1 Z","size":4096,"angle":31,"filled":true,"opacity":1,"color":"#1f4fd0"}},
{"data":{"name":"notes"},"transform":[{"filter":"datum.g=='C'"}],"mark":{"type":"text","align":"center","color":"#5d606b"},"encoding":{"text":{"field":"t"}}},
{"data":{"name":"unitbox"},"mark":{"type":"rect","fill":"white","stroke":"#e0e3eb","cornerRadius":5},"encoding":{"x2":{"field":"b2"},"y2":{"field":"p2"}}},
{"data":{"name":"badges"},"mark":{"type":"rect","fill":"#7e57c2","cornerRadius":3},"encoding":{"x2":{"field":"b2"},"y2":{"field":"p2"}}},
{"data":{"name":"boxes"},"mark":{"type":"rect","cornerRadius":2},"encoding":{"x2":{"field":"b2"},"y2":{"field":"p2"},"fill":{"field":"k","type":"nominal","legend":null,"scale":{"domain":["close","black","pink","purple","blue","orange","pale"],"range":["#d1584a","#000000","#f06292","#b026ff","#2962ff","#ff9800","#e3effb"]}}}},
{"data":{"name":"frameMain"},"mark":{"type":"rule","color":"#e0e3eb"},"encoding":{"y2":{"field":"p2"}}},
{"data":{"name":"notes"},"transform":[{"filter":"datum.g=='L'"}],"mark":{"type":"text","align":"left"},"encoding":{"text":{"field":"t"},"color":{"field":"k","type":"nominal","legend":null,"scale":{"domain":["ink","ohlc","orange","blue","pink","purple"],"range":["#131722","#6e2a22","#ff9800","#2962ff","#f06292","#b026ff"]}}}},
{"data":{"name":"notes"},"transform":[{"filter":"datum.g=='R'"}],"mark":{"type":"text","align":"right"},"encoding":{"text":{"field":"t"},"color":{"field":"k","type":"nominal","legend":null,"scale":{"domain":["teal","gray","magenta","dgreen","sky","green","red"],"range":["#2bbf91","#8a8d96","#c2188b","#38761d","#2196c8","#2ab52a","#c8282d"]}}}},
{"data":{"name":"notes"},"transform":[{"filter":"datum.g=='D'"}],"mark":{"type":"text","align":"center","color":"#131722"},"encoding":{"text":{"field":"t"}}},
{"data":{"name":"badgeText"},"mark":{"type":"text","align":"center","color":"white","fontWeight":"bold","fontSize":12},"encoding":{"text":{"field":"t"}}},
{"data":{"name":"timer"},"mark":{"type":"text","align":"center","color":"#f7d3cc","fontWeight":"bold","fontSize":12},"encoding":{"text":{"field":"t"}}},
{"data":{"name":"cutoff"},"mark":{"type":"text","align":"right","color":"#8a8d96","clip":true},"encoding":{"text":{"field":"t"}}},
{"data":{"name":"channel"},"mark":{"type":"text","align":"left","color":"#1f5fd8","fontSize":15,"fontWeight":600},"encoding":{"text":{"field":"t"}}}
]
},
{
"width":1393,"height":100,
"encoding":{
"x":{"field":"b","type":"quantitative","scale":{"domain":[-0.383,231.78],"nice":false,"zero":false,"padding":0},"axis":{"values":[1,22,43,64,84,106,127,148,171,190,212],"labelExpr":"datum.value==1?'Mar':datum.value==22?'Apr':datum.value==43?'May':datum.value==64?'Jun':datum.value==84?'Jul':datum.value==106?'Aug':datum.value==127?'Sep':datum.value==148?'Oct':datum.value==171?'Nov':datum.value==190?'Dec':'2026'","labelFontWeight":{"condition":{"test":"datum.value==212","value":"bold"},"value":"normal"},"domainColor":"#c00000","domainWidth":1,"labelPadding":8,"labelFlush":false}},
"y":{"field":"r","type":"quantitative","scale":{"domain":[26,76.5],"nice":false,"zero":false},"axis":{"orient":"right","values":[40,60],"format":".2f","labelPadding":8,"labelOffset":1,"domainColor":"#b00000","domainWidth":1}}
},
"layer":[
{"data":{"values":[{"b":-0.383,"b2":231.78,"r":30,"r2":70}]},"mark":{"type":"rect","fill":"#f0ecf8"},"encoding":{"x2":{"field":"b2"},"y2":{"field":"r2"}}},
{"data":{"values":[{"r":70},{"r":30}]},"mark":{"type":"rule","color":"#787b86","strokeDash":[5,5],"strokeWidth":1},"encoding":{"x":{"value":0},"x2":{"value":1393}}},
{"data":{"values":[{"r":50}]},"mark":{"type":"rule","color":"#b2b5be","strokeDash":[5,5],"strokeWidth":1},"encoding":{"x":{"value":0},"x2":{"value":1393}}},
{"data":{"name":"rsi"},"mark":{"type":"line","color":"#5e35b1","strokeWidth":2,"clip":true}},
{"data":{"values":[{"b":231.78,"r":26,"r2":12.4}]},"mark":{"type":"rule","color":"#c00000","strokeWidth":1.5},"encoding":{"y2":{"field":"r2"}}},
{"data":{"values":[{"b":231.78,"b2":241.8,"r":26}]},"mark":{"type":"rule","color":"#c00000","strokeWidth":1},"encoding":{"x2":{"field":"b2"}}},
{"data":{"values":[{"b":241.8,"r":76.5,"r2":12.4}]},"mark":{"type":"rule","color":"#e0e3eb"},"encoding":{"y2":{"field":"r2"}}},
{"data":{"values":[{"b":-0.383,"b2":241.8,"r":12.4}]},"mark":{"type":"rule","color":"#e0e3eb"},"encoding":{"x2":{"field":"b2"}}},
{"data":{"values":[{"b":232.05,"b2":239.1,"r":75,"r2":66.5}]},"mark":{"type":"rect","fill":"#673ab7","cornerRadius":2},"encoding":{"x2":{"field":"b2"},"y2":{"field":"r2"}}},
{"data":{"values":[{"b":235.6,"r":71,"t":"71.31"}]},"mark":{"type":"text","align":"center","color":"white","fontWeight":"bold","fontSize":12},"encoding":{"text":{"field":"t"}}},
{"data":{"values":[{"b":1,"r":69.5,"t":"RSI (14, close)"}]},"mark":{"type":"text","align":"left","color":"#131722"},"encoding":{"text":{"field":"t"}}},
{"data":{"values":[{"b":15.2,"r":69.5,"t":"71.31"}]},"mark":{"type":"text","align":"left","color":"#673ab7"},"encoding":{"text":{"field":"t"}}},
{"data":{"values":[{"b":230.2,"r":19.4,"t":"Fe"}]},"mark":{"type":"text","align":"left","color":"#131722","fontSize":12},"encoding":{"text":{"field":"t"}}},
{"data":{"values":[{"b":2.8,"r":-3.8}]},"mark":{"type":"point","shape":"M-1,-0.42 H-0.3 V0.42 H-0.66 V-0.08 H-1 Z M0.22,-0.24 A0.17,0.17 0 1 1 -0.12,-0.24 A0.17,0.17 0 1 1 0.22,-0.24 Z M0.5,-0.42 H1 L0.6,0.42 H0.08 Z","size":1296,"filled":true,"opacity":1,"color":"#131722"}},
{"data":{"values":[{"b":5.95,"r":-3.8,"t":"TradingView"}]},"mark":{"type":"text","align":"left","font":"Inter","fontSize":20,"fontWeight":600,"color":"#131722"},"encoding":{"text":{"field":"t"}}}
]
}
]
}
